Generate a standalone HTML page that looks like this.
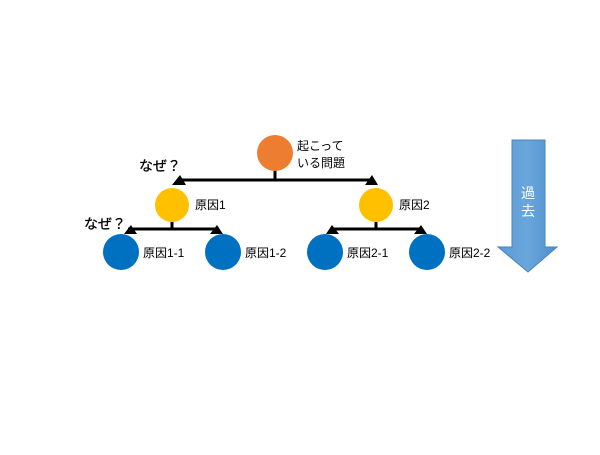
<!DOCTYPE html><html><head><meta charset="utf-8"><style>body{margin:0;background:#fff}</style></head><body>
<svg width="600" height="450" xmlns="http://www.w3.org/2000/svg" font-family="Liberation Sans, Noto Sans CJK JP, sans-serif" font-size="12">
<defs><linearGradient id="g" x1="0" x2="1"><stop offset="0" stop-color="#5b9bd5"/><stop offset="0.5" stop-color="#6aa6dc"/><stop offset="1" stop-color="#4f8fcc"/></linearGradient></defs>
<g stroke="#000" stroke-width="3" fill="none">
<line x1="275" y1="170" x2="275" y2="180"/><line x1="180" y1="180" x2="370" y2="180"/>
<line x1="172" y1="222" x2="172" y2="229"/><line x1="128" y1="229" x2="217" y2="229"/>
<line x1="376" y1="222" x2="376" y2="229"/><line x1="330" y1="229" x2="421" y2="229"/>
</g>
<g fill="#000">
<polygon points="172,185 186,185 180,175"/><polygon points="365,185 378,185 372,175"/>
<polygon points="124,234 137,234 131,225"/><polygon points="210,234 223,234 217,225"/>
<polygon points="326,234 339,234 332,225"/><polygon points="414,234 427,234 421,225"/>
</g>
<circle cx="275" cy="153" r="18" fill="#ed7d31"/>
<circle cx="172" cy="205" r="17" fill="#ffc000"/><circle cx="376" cy="205" r="17" fill="#ffc000"/>
<g fill="#0070c0"><circle cx="121" cy="252" r="18"/><circle cx="223" cy="252" r="18"/><circle cx="325" cy="252" r="18"/><circle cx="427" cy="252" r="18"/></g>
<text x="297" y="150">起こって</text><text x="297" y="167">いる問題</text>
<text x="139" y="171" font-size="14" stroke="#000" stroke-width="0.3">なぜ？</text><text x="84" y="229" font-size="14" stroke="#000" stroke-width="0.3">なぜ？</text>
<text x="195" y="209">原因1</text><text x="399" y="209">原因2</text>
<text x="143" y="257">原因1-1</text><text x="245" y="257">原因1-2</text><text x="347" y="257">原因2-1</text><text x="449" y="257">原因2-2</text>
<polygon points="512,140 545,140 545,247 557,247 528,272 498,247 512,247" fill="url(#g)" stroke="#4a84bd" stroke-width="1"/>
<text x="528" y="198" fill="#fff" text-anchor="middle" font-size="14">過</text><text x="528" y="216" fill="#fff" text-anchor="middle" font-size="14">去</text>
</svg></body></html>
